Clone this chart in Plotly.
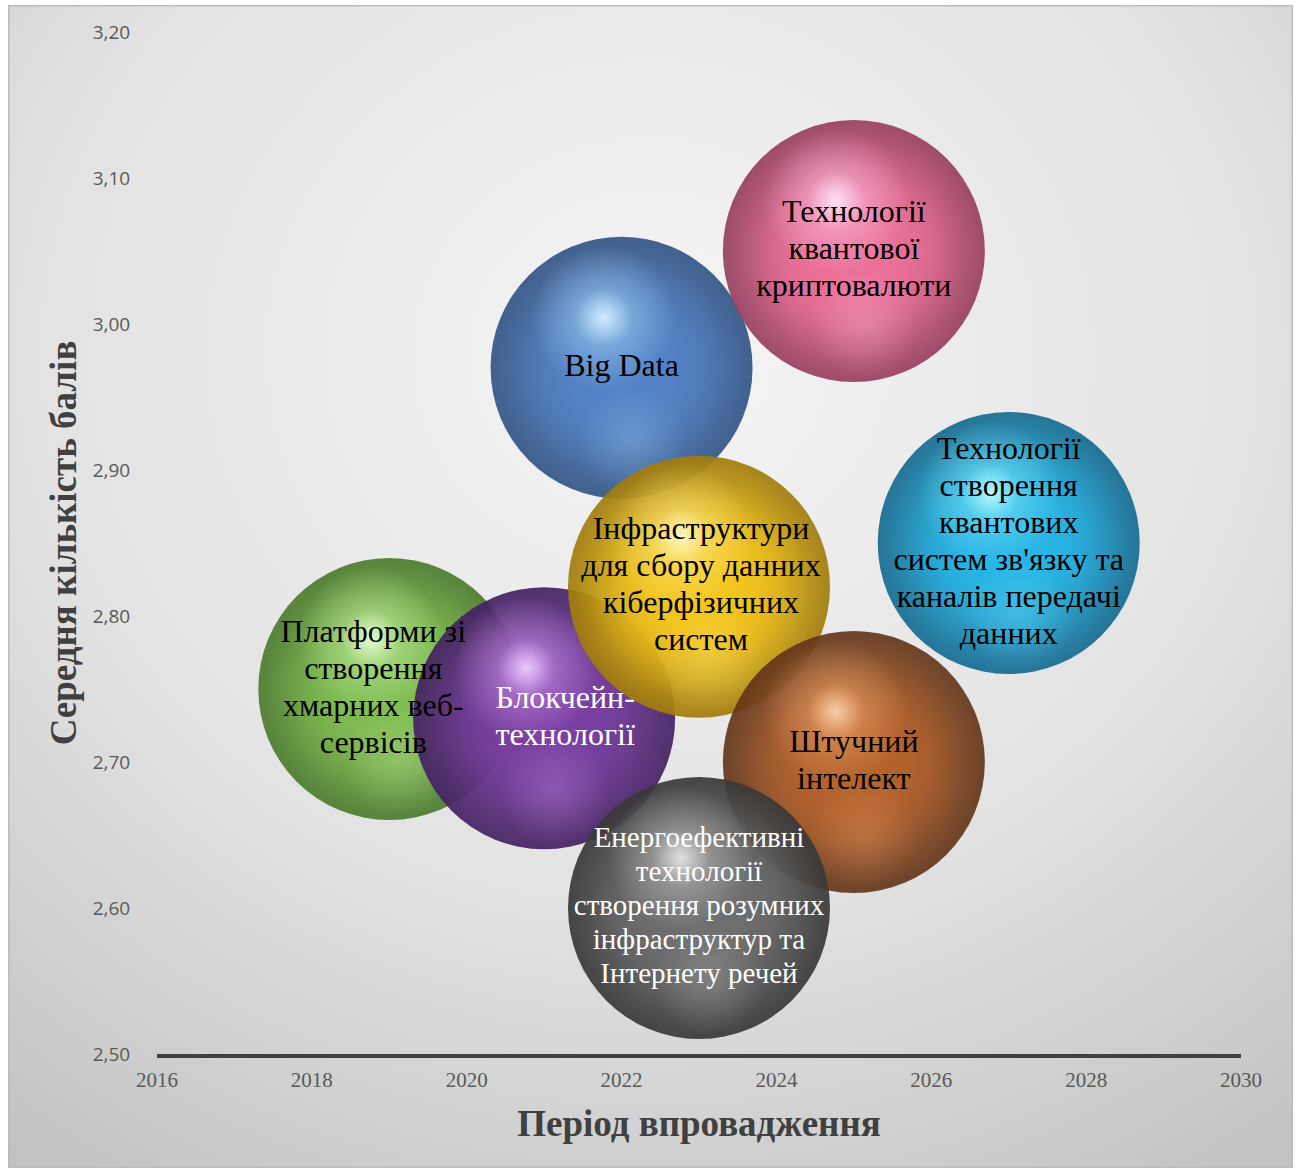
import base64
import plotly.graph_objects as go

# ---------------- data ----------------
categories = [
    "Платформи зі<br>створення<br>хмарних веб-<br>сервісів",
    "Блокчейн-<br>технології",
    "Big Data",
    "Інфраструктури<br>для сбору данних<br>кіберфізичних<br>систем",
    "Технології<br>квантової<br>криптовалюти",
    "Технології<br>створення<br>квантових<br>систем зв'язку та<br>каналів передачі<br>данних",
    "Штучний<br>інтелект",
    "Енергоефективні<br>технології<br>створення розумних<br>інфраструктур та<br>Інтернету речей",
]
period = [2019, 2021, 2022, 2023, 2025, 2027, 2025, 2023]
avg_score = [2.75, 2.73, 2.97, 2.82, 3.05, 2.85, 2.70, 2.60]
bubble_value = [1, 1, 1, 1, 1, 1, 1, 1]

x_ticks = [2016, 2018, 2020, 2022, 2024, 2026, 2028, 2030]
y_ticks = [2.50, 2.60, 2.70, 2.80, 2.90, 3.00, 3.10, 3.20]

# sphere colours: (edge, body, highlight)
palette = [
    ("#3f6a22", "#80bd52", "#dcfabc"),
    ("#361a52", "#7a3fa2", "#e6b2ff"),
    ("#2a4875", "#5282c7", "#bde6ff"),
    ("#8c6a08", "#f3c51c", "#fff6a8"),
    ("#833250", "#ec7099", "#ffd6f4"),
    ("#10587a", "#27b5e6", "#9af6ff"),
    ("#4f2b16", "#b5622c", "#f9b680"),
    ("#2a2a2a", "#6e6e6e", "#d4d4d4"),
]
text_colors = ["#000000", "#ffffff", "#000000", "#000000", "#000000", "#000000", "#000000", "#ffffff"]
text_sizes = [32, 32, 32, 32, 32, 32, 32, 29]
line_gap_px = [37, 37, 37, 37, 37, 37, 37, 34]
label_nudge_px = [-16, 21, 0, 2, 0, 0, 0, 0]

# ---------------- layout constants ----------------
W, H = 1298, 1171
ML, MR, MT, MB = 157, 57, 32, 117
PW, PH = W - ML - MR, H - MT - MB
XR = [2016, 2030]
YR = [2.50, 3.20]
px_x = PW / (XR[1] - XR[0])
px_y = PH / (YR[1] - YR[0])
D = 262  # bubble diameter in px


def rgba(hexc, a):
    h = hexc.lstrip("#")
    r, g, b = int(h[0:2], 16), int(h[2:4], 16), int(h[4:6], 16)
    return f"rgba({r},{g},{b},{a})"


def mix(c1, c2, t):
    a = [int(c1.lstrip("#")[k:k + 2], 16) for k in (0, 2, 4)]
    b = [int(c2.lstrip("#")[k:k + 2], 16) for k in (0, 2, 4)]
    return "#" + "".join(f"{round(a[k] + (b[k] - a[k]) * t):02x}" for k in range(3))


def disk(x, y, size, edge_col, center_col, opacity=1.0):
    return go.Scatter(
        x=[x], y=[y], mode="markers", hoverinfo="skip", showlegend=False,
        marker=dict(size=size, color=edge_col, opacity=opacity,
                    gradient=dict(type="radial", color=center_col),
                    line=dict(width=0)))


fig = go.Figure()

for i in range(len(categories)):
    edge, body, hl = palette[i]
    size = bubble_value[i] * D
    x0, y0 = period[i], avg_score[i]
    # base sphere: dark rim fading to body colour
    fig.add_trace(disk(x0, y0, size, rgba(mix(body, edge, 0.8), 1), rgba(body, 1), 0.92))
    # body fill layers to keep the middle bright
    fig.add_trace(disk(x0, y0, size * 0.96, rgba(body, 0), rgba(body, 0.9)))
    fig.add_trace(disk(x0, y0, size * 0.84, rgba(body, 0), rgba(body, 0.9)))
    fig.add_trace(disk(x0, y0, size * 0.7, rgba(body, 0), rgba(body, 0.8)))
    # lower reflection
    fig.add_trace(disk(x0 + 10 / px_x, y0 - 72 / px_y, size * 0.42,
                       rgba(hl, 0), rgba(hl, 0.22)))
    # specular highlight (offset up-left)
    fig.add_trace(disk(x0 - 18 / px_x, y0 + 50 / px_y, size * 0.55,
                       rgba(hl, 0), rgba(hl, 0.6)))
    fig.add_trace(disk(x0 - 18 / px_x, y0 + 50 / px_y, size * 0.22,
                       rgba(hl, 0), rgba(mix(hl, "#ffffff", 0.5), 0.85)))

# bubble labels, one text item per line
lx, ly, lt, lc, ls = [], [], [], [], []
for i, label in enumerate(categories):
    lines = label.split("<br>")
    n = len(lines)
    for k, line in enumerate(lines):
        lx.append(period[i] + label_nudge_px[i] / px_x)
        ly.append(avg_score[i] + ((n - 1) / 2 - k) * line_gap_px[i] / px_y)
        lt.append(line)
        lc.append(text_colors[i])
        ls.append(text_sizes[i])

fig.add_trace(go.Scatter(
    x=lx, y=ly, mode="text", text=lt,
    textposition="middle center", hoverinfo="skip",
    textfont=dict(family="Liberation Serif, Times New Roman, serif",
                  size=ls, color=lc),
    showlegend=False))

# background panel as svg image
svg = (
    '<svg xmlns="http://www.w3.org/2000/svg" width="1285" height="1163" '
    'viewBox="0 0 1285 1163" preserveAspectRatio="none"><defs>'
    '<radialGradient id="g" cx="0.5" cy="0.3" r="0.85">'
    '<stop offset="0" stop-color="#f5f5f5"/><stop offset="0.55" stop-color="#e3e3e3"/>'
    '<stop offset="1" stop-color="#c2c2c2"/></radialGradient></defs>'
    '<rect x="0.75" y="0.75" width="1283.5" height="1161.5" fill="url(#g)" '
    'stroke="#bcbcbc" stroke-width="1.5"/></svg>'
)
src = "data:image/svg+xml;base64," + base64.b64encode(svg.encode("utf-8")).decode("ascii")
fx0 = (8 - ML) / PW
fx1 = (1293 - ML) / PW
fy0 = (H - MB - 5) / PH
fy1 = (H - MB - 1168) / PH

serif = "Liberation Serif, Times New Roman, serif"

fig.update_layout(
    width=W, height=H,
    margin=dict(l=ML, r=MR, t=MT, b=MB),
    paper_bgcolor="#ffffff", plot_bgcolor="rgba(0,0,0,0)",
    separators=", ",
    images=[dict(source=src, xref="paper", yref="paper", x=fx0, y=fy0,
                 sizex=fx1 - fx0, sizey=fy0 - fy1, xanchor="left", yanchor="top",
                 sizing="stretch", layer="below")],
    xaxis=dict(range=XR, tickvals=x_ticks, tickformat="d",
               showgrid=False, zeroline=False,
               showline=True, linecolor="#404040", linewidth=4,
               ticks="outside", ticklen=4, tickcolor="rgba(0,0,0,0)",
               tickfont=dict(family=serif, size=21, color="#595959"),
               title=dict(text="<b>Період впровадження</b>", standoff=20,
                          font=dict(family=serif, size=37, color="#404040"))),
    yaxis=dict(range=YR, tickvals=y_ticks, tickformat=".2f",
               showgrid=False, zeroline=False, showline=False,
               ticks="outside", ticklen=22, tickcolor="rgba(0,0,0,0)",
               tickfont=dict(family="Open Sans, sans-serif", size=19, color="#595959"),
               title=dict(text="<b>Середня кількість балів</b>", standoff=4,
                          font=dict(family=serif, size=37, color="#404040"))),
)

fig.write_html("out.html")
